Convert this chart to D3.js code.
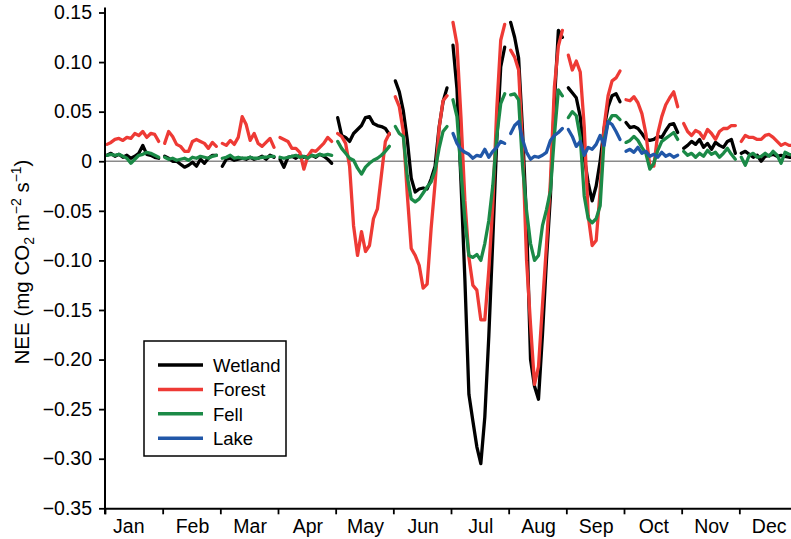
<!DOCTYPE html>
<html>
<head>
<meta charset="utf-8">
<script src="https://cdn.jsdelivr.net/npm/d3@7"></script>
<style>
  body { margin: 0; background: #fff; }
  svg { display: block; font-family: "Liberation Sans", Arial, sans-serif; }
</style>
</head>
<body>
<div id="main"></div>
<script>
// months on the x axis, each drawn as its own line piece
const months = ['Jan','Feb','Mar','Apr','May','Jun','Jul','Aug','Sep','Oct','Nov','Dec'];
// sampled days inside each month
const sampleDays = [1, 3, 5, 7, 9, 11, 13, 15, 17, 19, 21, 23, 25, 27];
const yTicks = [0.15, 0.10, 0.05, 0, -0.05, -0.10, -0.15, -0.20, -0.25, -0.30, -0.35];

// NEE (mg CO2 m-2 s-1), one row of samples per month, null = no data
const wetland = [
  [0.006, 0.008, 0.005, 0.007, 0.004, 0.006, 0.003, 0.005, 0.008, 0.016, 0.007, 0.006, 0.004, 0.003],
  [0.005, 0.003, 0.000, 0.000, -0.003, -0.006, -0.004, -0.001, -0.005, 0.002, -0.002, 0.003, 0.006, 0.006],
  [-0.005, 0.002, 0.003, 0.001, 0.002, 0.003, 0.002, 0.004, 0.002, 0.003, 0.005, 0.002, 0.006, 0.004],
  [0.002, -0.006, 0.004, 0.005, 0.003, 0.006, 0.004, 0.005, 0.006, 0.004, 0.007, 0.005, 0.002, -0.002],
  [0.044, 0.026, 0.024, 0.020, 0.028, 0.032, 0.036, 0.044, 0.045, 0.038, 0.036, 0.035, 0.033, 0.027],
  [0.081, 0.070, 0.051, 0.022, -0.017, -0.031, -0.028, -0.027, -0.028, -0.018, -0.005, 0.034, 0.060, 0.074],
  [0.117, 0.073, -0.020, -0.120, -0.235, -0.262, -0.288, -0.305, -0.258, -0.177, -0.080, 0.020, 0.095, 0.115],
  [0.140, 0.125, 0.104, 0.030, -0.060, -0.200, -0.227, -0.240, -0.175, -0.100, -0.035, 0.060, 0.132, 0.125],
  [0.074, 0.069, 0.064, 0.045, 0.004, -0.022, -0.040, -0.025, 0.000, 0.033, 0.055, 0.066, 0.068, 0.060],
  [0.039, 0.034, 0.035, 0.033, 0.028, 0.022, 0.021, 0.022, 0.025, 0.024, 0.031, 0.037, 0.038, 0.029],
  [0.013, 0.016, 0.020, 0.017, 0.022, 0.014, 0.018, 0.012, 0.019, 0.016, 0.014, 0.020, 0.022, 0.008],
  [0.008, 0.010, 0.007, 0.004, 0.006, 0.000, 0.005, 0.006, 0.007, 0.005, 0.006, 0.005, 0.004, 0.004]
];
const forest = [
  [0.017, 0.019, 0.022, 0.023, 0.021, 0.024, 0.023, 0.028, 0.026, 0.030, 0.024, 0.028, 0.027, 0.020],
  [0.018, 0.030, 0.025, 0.017, 0.015, 0.010, 0.010, 0.020, 0.022, 0.020, 0.018, 0.013, 0.019, 0.015],
  [0.018, 0.016, 0.021, 0.017, 0.024, 0.045, 0.037, 0.021, 0.028, 0.018, 0.015, 0.019, 0.023, 0.014],
  [0.024, 0.022, 0.020, 0.013, 0.013, 0.009, -0.008, 0.005, 0.011, 0.010, 0.014, 0.018, 0.024, 0.020],
  [0.028, 0.025, 0.018, -0.005, -0.065, -0.095, -0.071, -0.091, -0.085, -0.058, -0.048, -0.014, 0.020, 0.028],
  [0.065, 0.055, 0.030, -0.033, -0.088, -0.095, -0.105, -0.128, -0.124, -0.068, -0.022, 0.033, 0.061, 0.066],
  [0.140, 0.118, 0.045, -0.040, -0.097, -0.125, -0.130, -0.160, -0.160, -0.110, -0.045, 0.052, 0.122, 0.138],
  [0.112, 0.105, 0.092, 0.015, -0.100, -0.165, -0.225, -0.207, -0.145, -0.085, -0.020, 0.075, 0.116, 0.132],
  [0.107, 0.092, 0.101, 0.090, 0.035, -0.055, -0.085, -0.080, -0.030, 0.035, 0.066, 0.081, 0.084, 0.091],
  [0.062, 0.061, 0.065, 0.059, 0.048, 0.028, -0.005, -0.005, 0.028, 0.045, 0.057, 0.064, 0.070, 0.055],
  [0.038, 0.030, 0.026, 0.031, 0.029, 0.023, 0.032, 0.028, 0.022, 0.030, 0.033, 0.033, 0.036, 0.036],
  [0.020, 0.026, 0.024, 0.024, 0.022, 0.022, 0.026, 0.027, 0.024, 0.020, 0.016, 0.018, 0.016, 0.016]
];
const fell = [
  [0.006, 0.007, 0.006, 0.007, 0.005, 0.003, -0.002, 0.002, 0.006, 0.007, 0.009, 0.008, 0.006, 0.004],
  [0.004, 0.002, 0.003, 0.001, 0.002, 0.003, 0.001, 0.004, 0.003, 0.005, 0.004, 0.003, 0.005, 0.006],
  [0.003, 0.004, 0.006, 0.003, 0.004, 0.003, 0.003, 0.004, 0.003, 0.003, 0.004, 0.004, 0.005, 0.005],
  [0.004, 0.003, 0.004, 0.005, 0.006, 0.004, 0.005, 0.003, 0.006, 0.005, 0.007, 0.006, 0.007, 0.006],
  [0.020, 0.013, 0.008, 0.003, 0.001, -0.007, -0.013, -0.006, -0.002, 0.001, 0.003, 0.006, 0.010, 0.015],
  [0.035, 0.028, 0.025, -0.015, -0.038, -0.041, -0.038, -0.032, -0.026, -0.021, -0.009, 0.013, 0.030, 0.035],
  [0.062, 0.045, -0.010, -0.060, -0.095, -0.097, -0.094, -0.100, -0.083, -0.060, -0.025, 0.025, 0.058, 0.068],
  [0.067, 0.068, 0.062, -0.005, -0.050, -0.083, -0.100, -0.095, -0.065, -0.049, -0.030, 0.026, 0.072, 0.066],
  [0.044, 0.050, 0.046, 0.024, -0.035, -0.058, -0.062, -0.058, -0.045, 0.022, 0.039, 0.046, 0.046, 0.042],
  [0.019, 0.021, 0.025, 0.021, 0.014, 0.008, -0.008, -0.002, 0.011, 0.020, 0.023, 0.026, 0.029, 0.022],
  [0.010, 0.006, 0.008, 0.004, 0.008, 0.005, 0.011, 0.007, 0.009, 0.004, 0.008, 0.013, 0.007, 0.002],
  [0.004, -0.004, 0.006, 0.008, 0.004, 0.005, 0.008, 0.005, 0.010, 0.006, -0.002, 0.009, 0.007, 0.006]
];
const lake = [
  null, null, null, null, null, null,
  [0.028, 0.018, 0.012, 0.009, 0.007, 0.003, 0.006, 0.005, 0.012, 0.004, 0.010, 0.014, 0.020, 0.018],
  [0.028, 0.036, 0.040, 0.022, 0.009, 0.002, 0.005, 0.004, 0.006, 0.009, 0.021, 0.026, 0.029, 0.033],
  [0.032, 0.025, 0.015, 0.020, 0.006, 0.014, 0.012, 0.017, 0.026, 0.016, 0.040, 0.037, 0.030, 0.022],
  [0.010, 0.012, 0.009, 0.014, 0.008, 0.010, 0.005, 0.007, 0.004, 0.009, 0.005, 0.007, 0.004, 0.006],
  null, null
];

const siteNames  = ['Wetland', 'Forest', 'Fell', 'Lake'];
const siteColors = ['#000000', '#ee3a35', '#1b8a47', '#2157a8'];
const siteData   = [wetland, forest, fell, lake];

const width = 791, height = 539;
const fs = 19.5;

const x = d3.scaleLinear().domain([0, 12]).range([105, 797]);
const y = d3.scaleLinear().domain([-0.35, 0.15]).range([508.3, 12.5]);

const svg = d3.select('#main').append('svg')
  .attr('width', width).attr('height', height)
  .attr('viewBox', [0, 0, width, height]);

// zero line
svg.append('line')
  .attr('x1', x(0)).attr('x2', width)
  .attr('y1', y(0)).attr('y2', y(0))
  .attr('stroke', '#8a8a8a').attr('stroke-width', 1.5);

// data, one path per site per month
const line = d3.line().x(d => x(d[0])).y(d => y(d[1]));
siteData.forEach((site, s) => {
  const g = svg.append('g')
    .attr('fill', 'none')
    .attr('stroke', siteColors[s])
    .attr('stroke-width', 3.3)
    .attr('stroke-linejoin', 'round')
    .attr('stroke-linecap', 'round');
  site.forEach((vals, m) => {
    if (!vals) return;
    const pts = vals.map((v, k) => [m + sampleDays[k] / 29, v]);
    g.append('path').attr('d', line(pts));
  });
});

// y axis
const ay = d3.axisLeft(y)
  .tickValues(yTicks)
  .tickSize(6).tickSizeOuter(0).tickPadding(7)
  .tickFormat(d => d === 0 ? '0' : d3.format('.2f')(d));
const gy = svg.append('g').attr('transform', `translate(${x(0)},0)`).call(ay);
gy.select('.domain').remove();
gy.selectAll('.tick line').attr('stroke', '#000').attr('stroke-width', 1.8);
gy.selectAll('.tick text').attr('font-size', fs).attr('fill', '#000')
  .attr('font-family', '"Liberation Sans", Arial, sans-serif');
svg.append('line')
  .attr('x1', x(0)).attr('x2', x(0))
  .attr('y1', y(0.15) - 5).attr('y2', y(-0.35) + 6)
  .attr('stroke', '#000').attr('stroke-width', 2);

// x axis, ticks at month boundaries, labels centred in months
const ax = d3.axisBottom(x)
  .tickValues(d3.range(0, 13))
  .tickSize(6).tickSizeOuter(0)
  .tickFormat('');
const gx = svg.append('g').attr('transform', `translate(0,${y(-0.35)})`).call(ax);
gx.select('.domain').attr('stroke', '#000').attr('stroke-width', 2);
gx.selectAll('.tick line').attr('stroke', '#000').attr('stroke-width', 1.8);

svg.append('g').selectAll('text').data(months).join('text')
  .attr('x', (d, i) => x(i + 0.5) + (i === 0 ? -5 : 1))
  .attr('y', 533)
  .attr('text-anchor', 'middle')
  .attr('font-size', fs)
  .text(d => d);

// y axis title
const title = svg.append('text')
  .attr('transform', 'translate(29,262) rotate(-90)')
  .attr('text-anchor', 'middle')
  .attr('font-size', 20.5);
title.append('tspan').text('NEE (mg CO');
title.append('tspan').attr('font-size', 14).attr('dy', 5).text('2');
title.append('tspan').attr('dy', -5).text(' m');
title.append('tspan').attr('font-size', 14).attr('dy', -8).text('\u22122');
title.append('tspan').attr('dy', 8).text(' s');
title.append('tspan').attr('font-size', 14).attr('dy', -8).text('\u22121');
title.append('tspan').attr('dy', 8).text(')');

// legend
const lg = svg.append('g');
lg.append('rect')
  .attr('x', 144).attr('y', 341).attr('width', 142).attr('height', 115)
  .attr('fill', '#fff').attr('stroke', '#000').attr('stroke-width', 1.5);
siteNames.forEach((name, i) => {
  const ry = 365 + i * 24.4;
  lg.append('line')
    .attr('x1', 158).attr('x2', 203).attr('y1', ry).attr('y2', ry)
    .attr('stroke', siteColors[i]).attr('stroke-width', 3.5);
  lg.append('text')
    .attr('x', 213).attr('y', ry + 7)
    .attr('font-size', 18.5)
    .text(name);
});
</script>
</body>
</html>
